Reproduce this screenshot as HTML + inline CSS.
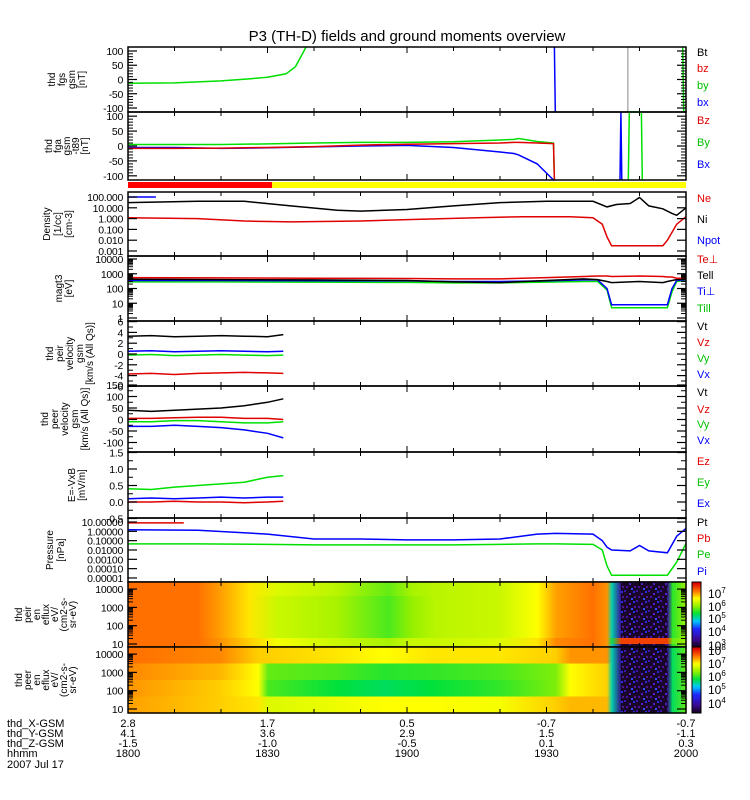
<!DOCTYPE html>
<html><head><meta charset="utf-8">
<style>
html,body{margin:0;padding:0;background:#fff;}
svg{display:block;font-family:"Liberation Sans",sans-serif;}
</style></head>
<body>
<svg id="c" width="750" height="800" viewBox="0 0 750 800" xmlns="http://www.w3.org/2000/svg">
<defs>
<pattern id="noise" width="12" height="10" patternUnits="userSpaceOnUse">
<rect width="12" height="10" fill="#1a0628"/>
<rect x="0" y="0" width="2" height="2" fill="#3a18b0"/>
<rect x="5" y="3" width="2" height="2" fill="#5020c8"/>
<rect x="9" y="1" width="2" height="2" fill="#2030e0"/>
<rect x="2" y="6" width="2" height="2" fill="#4a10a0"/>
<rect x="7" y="8" width="2" height="2" fill="#3050ff"/>
<rect x="10" y="6" width="2" height="2" fill="#501890"/>
</pattern>
</defs>
<text x="407" y="41" font-size="15" text-anchor="middle">P3 (TH-D) fields and ground moments overview</text>
<g id="g"></g>
</svg>
<script>
// ---------- data ----------
const fgsT=[0,10,20,26,30,34,36,37,38.3];
const fgsBy=[-13,-12,-5,2,8,20,45,75,114];
const fgsBxT=[91.7,91.9];const fgsBxV=[114,-114];
const fgsByEndT=[119.3,119.5];const fgsByEndV=[114,-114];

const fgaT=[0,10,20,30,40,50,60,70,80,83,84,88,91.5,91.7];
const fgaBy=[5,5,5,7,10,12,12,14,20,22,25,15,10,-114];
const fgaBz=[-8,-8,-7,-5,-2,3,6,8,10,12,12,10,8,-114];
const fgaBx=[-5,-5,-8,-6,-3,0,2,-5,-20,-25,-30,-60,-114,-114];
const fgaSpikeBT=[105.8,106.0,106.2];const fgaSpikeBV=[-114,114,-114];
const fgaSpikeGT=[107.6,107.8,110.4,110.6];const fgaSpikeGV=[-114,114,114,-114];

const denT=[0,15,25,35,45,50,60,70,80,90,100,103,105,108,110,112,115,117,118,120];
const denNi=[30,40,40,15,6,5,7,15,30,40,40,12,20,25,90,15,8,3,2,10];
const neT=[0,15,25,35,50,60,75,85,95,100,102,103,104,110,115,116,118,120];
const denNe=[1.2,1.0,0.6,0.5,0.6,0.8,1.2,1.5,1.5,1.2,0.3,0.02,0.003,0.003,0.003,0.01,0.3,1.5];
const npotT=[0,6];const denNpot=[100,100];

const tmpT=[0,20,40,60,70,80,90,98,101,103,104,110,115,116,117,118,120];
const teperp=[550,520,500,480,450,450,550,650,700,700,650,700,650,600,600,500,500];
const tepar=[420,400,380,350,280,250,350,450,400,300,250,300,250,300,350,400,450];
const tiperp=[350,350,340,330,300,300,330,380,380,100,8,8,8,8,100,350,400];
const tipar=[280,280,270,260,240,240,270,300,300,80,5,5,5,5,60,300,350];

const velT=[0,5,10,15,20,25,30,33.4];
const peirVt=[3.3,3.4,3.2,3.3,3.4,3.3,3.2,3.6];
const peirVx=[0.5,0.6,0.4,0.5,0.6,0.5,0.4,0.5];
const peirVy=[-0.2,-0.1,-0.3,-0.2,-0.1,-0.2,-0.3,-0.2];
const peirVz=[-3.7,-3.6,-3.8,-3.6,-3.5,-3.4,-3.5,-3.6];
const peerVt=[40,35,40,45,50,60,75,90];
const peerVz=[5,5,8,10,10,5,5,0];
const peerVy=[-10,-10,-5,-5,-10,-15,-15,-10];
const peerVx=[-30,-30,-25,-30,-35,-45,-60,-80];
const efT=[0,5,10,15,20,25,30,33.4];
const efEy=[0.4,0.38,0.45,0.5,0.55,0.6,0.75,0.8];
const efEx=[0.1,0.12,0.1,0.12,0.15,0.12,0.15,0.15];
const efEz=[0.0,0.0,0.02,0.0,0.0,-0.02,0.0,0.02];

const prT=[0,15,30,40,50,60,70,80,88,92,100,102,103,104,108,110,112,116,118,120];
const prPi=[1.5,1.3,0.5,0.15,0.15,0.12,0.12,0.15,0.5,0.6,0.5,0.1,0.02,0.01,0.008,0.03,0.008,0.005,0.3,2];
const prPe=[0.045,0.045,0.04,0.035,0.035,0.035,0.035,0.04,0.045,0.045,0.04,0.01,0.0002,0.00002,0.00002,0.00002,0.00002,0.00002,0.0005,0.05];
const pbT=[0,12];const prPb=[8,8];

// spectrograms: keypoint times (min from 1800) and normalized log-flux per energy row (top->bottom)
const sp1T=[0,15,20,26,32,45,56,61,66,80,88,92,100,103,104,106,116,117,120];
const sp1R0=[0.88,0.88,0.84,0.78,0.72,0.68,0.60,0.66,0.68,0.70,0.76,0.84,0.88,0.85,0.45,0.12,0.12,0.55,0.65];
const sp1R1=[0.88,0.88,0.84,0.78,0.70,0.66,0.58,0.64,0.68,0.70,0.76,0.84,0.88,0.85,0.45,0.12,0.12,0.55,0.65];
const sp1R2=[0.88,0.88,0.84,0.78,0.70,0.66,0.58,0.64,0.68,0.70,0.76,0.84,0.88,0.85,0.45,0.12,0.12,0.55,0.65];
const sp1R3=[0.88,0.88,0.84,0.78,0.70,0.66,0.58,0.64,0.68,0.70,0.76,0.84,0.88,0.85,0.45,0.12,0.12,0.55,0.65];
const sp1R4=[0.88,0.88,0.85,0.80,0.75,0.70,0.66,0.70,0.70,0.72,0.78,0.86,0.88,0.85,0.50,0.93,0.93,0.60,0.65];
const sp1R5=[0.88,0.88,0.85,0.80,0.75,0.70,0.66,0.70,0.70,0.72,0.78,0.86,0.88,0.85,0.45,0.12,0.12,0.55,0.65];
const sp2T=[0,20,28,30,45,55,65,80,92,95,103,104,106,116,117,120];
const sp2R0=[0.88,0.86,0.80,0.80,0.78,0.76,0.78,0.78,0.80,0.85,0.85,0.45,0.10,0.10,0.50,0.60];
const sp2R1=[0.86,0.82,0.76,0.60,0.58,0.55,0.56,0.58,0.62,0.76,0.80,0.45,0.10,0.10,0.50,0.60];
const sp2R2=[0.85,0.80,0.76,0.58,0.52,0.50,0.52,0.56,0.62,0.76,0.80,0.45,0.10,0.10,0.50,0.60];
const sp2R3=[0.84,0.80,0.78,0.72,0.74,0.76,0.76,0.75,0.80,0.82,0.82,0.45,0.10,0.10,0.50,0.60];

const xLabX=["2.8","1.7","0.5","-0.7","-0.7"];
const xLabY=["4.1","3.6","2.9","1.5","-1.1"];
const xLabZ=["-1.5","-1.0","-0.5","0.1","0.3"];
const xLabH=["1800","1830","1900","1930","2000"];

// ---------- helpers ----------
const NS="http://www.w3.org/2000/svg";
const G=document.getElementById('g');
const X0=128,X1=686;
function X(t){return X0+t*(X1-X0)/120;}
function mk(tag,attrs,parent){const e=document.createElementNS(NS,tag);for(const k in attrs)e.setAttribute(k,attrs[k]);(parent||G).appendChild(e);return e;}
function lin(top,bot,lo,hi){return v=>bot-(v-lo)/(hi-lo)*(bot-top);}
function series(ts,vs,yf,color,name,top,bot){
  let d='';for(let i=0;i<ts.length;i++){let y=Math.max(top,Math.min(bot,yf(vs[i])));d+=(i?'L':'M')+X(ts[i]).toFixed(1)+' '+y.toFixed(1);}
  const p=mk('path',{d:d,fill:'none',stroke:color,'stroke-width':1.5});
  
  
}
function txt(x,y,s,opt){const t=mk('text',Object.assign({x:x,y:y,'font-size':12},opt||{}));t.textContent=s;return t;}
function frame(top,bot,name){
  const r=mk('rect',{x:X0,y:top,width:X1-X0,height:bot-top,fill:'none',stroke:'#000','stroke-width':1.5});
  
  
  for(let t=10;t<120;t+=10){const L=(t%30===0)?6:4;mk('line',{x1:X(t),x2:X(t),y1:top,y2:top+L,stroke:'#000'});mk('line',{x1:X(t),x2:X(t),y1:bot,y2:bot-L,stroke:'#000'});}
}
function yticks(vals,labels,yf,top,bot,name,minor){
  const g=mk('g',{});
  vals.forEach((v,i)=>{const y=yf(v);if(y<top-1||y>bot+1)return;
    mk('line',{x1:X0,x2:X0+9,y1:y,y2:y,stroke:'#000','stroke-width':1.2},g);
    mk('line',{x1:X1,x2:X1-9,y1:y,y2:y,stroke:'#000','stroke-width':1.2},g);
    const t=mk('text',{x:123,y:y+4,'font-size':10.5,'letter-spacing':'-0.3','text-anchor':'end'},g);t.textContent=labels[i];});
  (minor||[]).forEach(v=>{const y=yf(v);if(y<top||y>bot)return;
    mk('line',{x1:X0,x2:X0+5,y1:y,y2:y,stroke:'#000'},g);mk('line',{x1:X1,x2:X1-5,y1:y,y2:y,stroke:'#000'},g);});
}
function ytitle(lines,top,bot,xr,name,sp){
  sp=sp||10;
  const g=mk('g',{});
  const cy=(top+bot)/2;const n=lines.length;
  lines.forEach((s,i)=>{const x=xr-(n-1-i)*sp;const t=mk('text',{x:x,y:cy,'font-size':10,'text-anchor':'middle',transform:`rotate(-90 ${x} ${cy})`},g);t.textContent=s;});
}
function legend(items,name){
  items.forEach(([s,c,y])=>{const t=txt(697,y,s,{fill:c,'font-size':11});
    
    });
}
function cmap(v){
  const st=[[0,[20,0,30]],[0.12,[60,10,150]],[0.28,[30,40,255]],[0.4,[0,200,255]],[0.52,[0,225,60]],[0.64,[150,240,0]],[0.76,[255,255,0]],[0.88,[255,112,0]],[1,[220,0,0]]];
  v=Math.max(0,Math.min(1,v));for(let i=1;i<st.length;i++){if(v<=st[i][0]){const a=st[i-1],b=st[i],f=(v-a[0])/(b[0]-a[0]);return 'rgb('+a[1].map((c,k)=>Math.round(c+(b[1][k]-c)*f)).join(',')+')';}}
  return 'rgb(220,0,0)';
}
let gid=0;
function spec(ts,rows,hs,top,bot,name){
  const g=mk('g',{});
  const defs=document.querySelector('defs');
  let yy=top;const tot=hs.reduce((a,b)=>a+b,0);
  rows.forEach((r,ri)=>{
    const h=hs[ri]/tot*(bot-top);
    for(let i=0;i<ts.length-1;i++){
      const id='sg'+(gid++);const lgd=mk('linearGradient',{id:id,x1:0,x2:1,y1:0,y2:0},defs);
      mk('stop',{offset:0,'stop-color':cmap(r[i])},lgd);mk('stop',{offset:1,'stop-color':cmap(r[i+1])},lgd);
      const x=X(ts[i]),w=X(ts[i+1])-x;
      const fill=(r[i]<0.2&&r[i+1]<0.2)?'url(#noise)':`url(#${id})`;
      mk('rect',{x:x.toFixed(2),y:yy.toFixed(2),width:(w+0.6).toFixed(2),height:(h+0.6).toFixed(2),fill:fill},g);
    }
    yy+=h;
  });
}
function cbar(top,bot,labels,ys,name){
  const g=mk('g',{});
  const n=40;for(let i=0;i<n;i++){mk('rect',{x:692,y:bot-(i+1)*(bot-top)/n,width:9,height:(bot-top)/n+0.5,fill:cmap(i/(n-1))},g);}
  mk('rect',{x:692,y:top,width:9,height:bot-top,fill:'none',stroke:'#000'},g);
  labels.forEach((l,i)=>{const t=mk('text',{x:708,y:ys[i]+5,'font-size':12},g);t.textContent='10';const s=mk('tspan',{dy:-5,'font-size':8},t);s.textContent=l;});
}

// ---------- panels ----------
const P=[[47,112],[112,180],[192,256],[256,321],[321,386],[386,452],[452,518],[518,582],[582,647],[647,713]];
// P1
let [a,b]=P[0];let y1=lin(a,b,-114,114);
series(fgsT,fgsBy,y1,'#00e000','fgs-by-line',a,b);
series(fgsBxT,fgsBxV,y1,'#0000ff','fgs-bx-line',a,b);
series(fgsByEndT,fgsByEndV,y1,'#00e000','fgs-by-end-line',a,b);
mk('line',{x1:X(107.5),x2:X(107.5),y1:a,y2:b,stroke:'#888','stroke-width':1});
frame(a,b,'fgs-panel');yticks([100,50,0,-50,-100],['100','50','0','-50','-100'],y1,a,b,'fgs-y-axis',[90,80,70,60,40,30,20,10,-10,-20,-30,-40,-60,-70,-80,-90]);
ytitle(['thd','fgs','gsm','[nT]'],a,b,85,'fgs-y-title');
legend([['Bt','#000',56],['bz','#e00000',72],['by','#00c000',89],['bx','#0000ff',106]],'fgs-legend');
// P2
[a,b]=P[1];let y2=lin(a,b,-114,114);
series(fgaT,fgaBx,y2,'#0000ff','fga-bx-line',a,b);
series(fgaT,fgaBy,y2,'#00e000','fga-by-line',a,b);
series(fgaT,fgaBz,y2,'#e00000','fga-bz-line',a,b);
series(fgaSpikeBT,fgaSpikeBV,y2,'#0000ff','fga-bx-spike',a,b);
series(fgaSpikeGT,fgaSpikeGV,y2,'#00e000','fga-by-spike',a,b);
frame(a,b,'fga-panel');yticks([100,50,0,-50,-100],['100','50','0','-50','-100'],y2,a,b,'fga-y-axis',[90,80,70,60,40,30,20,10,-10,-20,-30,-40,-60,-70,-80,-90]);
ytitle(['thd','fga','gsm','-t89','[nT]'],a,b,88,'fga-y-title',9);
legend([['Bz','#e00000',124],['By','#00c000',146],['Bx','#0000ff',168]],'fga-legend');
// mode bar
let r=mk('rect',{x:X0,y:182,width:X(31)-X0,height:6,fill:'#ff0000'});
r=mk('rect',{x:X(31),y:182,width:X1-X(31),height:6,fill:'#ffff00'});
// P3 density
[a,b]=P[2];let y3=v=>197+(2-Math.log10(v))*10.8;
series(npotT,denNpot,y3,'#0000ff','npot-line',a,b);
series(denT,denNi,y3,'#000','ni-line',a,b);
series(neT,denNe,y3,'#e00000','ne-line',a,b);
frame(a,b,'density-panel');yticks([100,10,1,0.1,0.01,0.001],['100.000','10.000','1.000','0.100','0.010','0.001'],y3,a,b,'density-y-axis');
ytitle(['Density','[1/cc]','[cm-3]'],a,b,72,'density-y-title',11);
legend([['Ne','#e00000',202],['Ni','#000',223],['Npot','#0000ff',244],['Te\u22a5','#e00000',263]],'density-legend');
// P4 temperature
[a,b]=P[3];let y4=v=>318-Math.log10(v)*14.75;
series(tmpT,tipar,y4,'#00e000','ti-par-line',a,b);
series(tmpT,tiperp,y4,'#0000ff','ti-perp-line',a,b);
series(tmpT,tepar,y4,'#000','te-par-line',a,b);
series(tmpT,teperp,y4,'#e00000','te-perp-line',a,b);
frame(a,b,'temperature-panel');yticks([10000,1000,100,10,1],['10000','1000','100','10','1'],y4,a,b,'temperature-y-axis',[2,3,4,5,6,7,8,9,20,30,40,50,60,70,80,90,200,300,400,500,600,700,800,900,2000,3000,4000,5000,6000,7000,8000,9000]);
ytitle(['magt3','[eV]'],a,b,72,'temperature-y-title');
legend([['Tell','#000',279],['Ti\u22a5','#0000ff',295],['Till','#00c000',312]],'temperature-legend');
// P5 peir velocity
[a,b]=P[4];let y5=v=>354-v*5.4;
series(velT,peirVt,y5,'#000','peir-vt-line',a,b);
series(velT,peirVz,y5,'#e00000','peir-vz-line',a,b);
series(velT,peirVy,y5,'#00e000','peir-vy-line',a,b);
series(velT,peirVx,y5,'#0000ff','peir-vx-line',a,b);
frame(a,b,'peir-velocity-panel');yticks([6,4,2,0,-2,-4,-6],['6','4','2','0','-2','-4','-6'],y5,a,b,'peir-velocity-y-axis',[5,3,1,-1,-3,-5]);
ytitle(['thd','peir','velocity','gsm','[km/s (All Qs)]'],a,b,93,'peir-velocity-y-title');
legend([['Vt','#000',330],['Vz','#e00000',346],['Vy','#00c000',362],['Vx','#0000ff',378]],'peir-velocity-legend');
// P6 peer velocity
[a,b]=P[5];let y6=v=>419.5-v*0.23;
series(velT,peerVt,y6,'#000','peer-vt-line',a,b);
series(velT,peerVz,y6,'#e00000','peer-vz-line',a,b);
series(velT,peerVy,y6,'#00e000','peer-vy-line',a,b);
series(velT,peerVx,y6,'#0000ff','peer-vx-line',a,b);
frame(a,b,'peer-velocity-panel');yticks([150,100,50,0,-50,-100,-150],['150','100','50','0','-50','-100','-150'],y6,a,b,'peer-velocity-y-axis',[125,75,25,-25,-75,-125]);
ytitle(['thd','peer','velocity','gsm','[km/s (All Qs)]'],a,b,88,'peer-velocity-y-title');
legend([['Vt','#000',396],['Vz','#e00000',413],['Vy','#00c000',428],['Vx','#0000ff',444]],'peer-velocity-legend');
// P7 E field
[a,b]=P[6];let y7=v=>502-v*33;
series(efT,efEy,y7,'#00e000','ey-line',a,b);
series(efT,efEz,y7,'#e00000','ez-line',a,b);
series(efT,efEx,y7,'#0000ff','ex-line',a,b);
frame(a,b,'efield-panel');yticks([1.5,1,0.5,0,-0.5],['1.5','1.0','0.5','0.0','-0.5'],y7,a,b,'efield-y-axis',[1.25,0.75,0.25,-0.25]);
ytitle(['E=-VxB','[mV/m]'],a,b,85,'efield-y-title');
legend([['Ez','#e00000',465],['Ey','#00c000',486],['Ex','#0000ff',507]],'efield-legend');
// P8 pressure
[a,b]=P[7];let y8=v=>522-(Math.log10(v)-1)*9.33;
series(pbT,prPb,y8,'#e00000','pb-line',a,b);
series(prT,prPe,y8,'#00e000','pe-line',a,b);
series(prT,prPi,y8,'#0000ff','pi-line',a,b);
frame(a,b,'pressure-panel');yticks([10,1,0.1,0.01,0.001,0.0001,0.00001],['10.00000','1.00000','0.10000','0.01000','0.00100','0.00010','0.00001'],y8,a,b,'pressure-y-axis');
ytitle(['Pressure','[nPa]'],a,b,64,'pressure-y-title',11);
legend([['Pt','#000',526],['Pb','#e00000',542],['Pe','#00c000',558],['Pi','#0000ff',575]],'pressure-legend');
// P9 peir spectrogram
[a,b]=P[8];spec(sp1T,[sp1R0,sp1R1,sp1R2,sp1R3,sp1R4,sp1R5],[14,14,14,14,6,3],a,b,'peir-spectrogram');
let y9=v=>644-(Math.log10(v)-1)*18.3;
frame(a,b,'peir-spec-panel');yticks([10000,1000,100,10],['10000','1000','100','10'],y9,a,b,'peir-spec-y-axis',[20,30,40,50,60,70,80,90,200,300,400,500,600,700,800,900,2000,3000,4000,5000,6000,7000,8000,9000]);
ytitle(['thd','peir','en','eflux','eV/','(cm2-s-','sr-eV)'],a,b,76,'peir-spec-y-title',9);
cbar(a,b,['7','6','5','4','3'],[593,606,618,631,645],'peir-colorbar');
// P10 peer spectrogram
[a,b]=P[9];spec(sp2T,[sp2R0,sp2R1,sp2R2,sp2R3],[1,1,1,1],a,b,'peer-spectrogram');
let y10=v=>709-(Math.log10(v)-1)*18.3;
frame(a,b,'peer-spec-panel');yticks([10000,1000,100,10],['10000','1000','100','10'],y10,a,b,'peer-spec-y-axis',[20,30,40,50,60,70,80,90,200,300,400,500,600,700,800,900,2000,3000,4000,5000,6000,7000,8000,9000]);
ytitle(['thd','peer','en','eflux','eV/','(cm2-s-','sr-eV)'],a,b,76,'peer-spec-y-title',9);
cbar(a,b,['8','7','6','5','4'],[650,663,676,689,703],'peer-colorbar');

// bottom labels
const xl=mk('g',{});
[['thd_X-GSM',727,xLabX],['thd_Y-GSM',737,xLabY],['thd_Z-GSM',747,xLabZ],['hhmm',757,xLabH]].forEach(([n,y,arr])=>{
  const t=mk('text',{x:7,y:y,'font-size':11},xl);t.textContent=n;
  arr.forEach((s,i)=>{const u=mk('text',{x:X(i*30),y:y,'font-size':11,'text-anchor':'middle'},xl);u.textContent=s;});
});
const dt=mk('text',{x:7,y:768,'font-size':11},xl);dt.textContent='2007 Jul 17';
</script>
</body></html>
